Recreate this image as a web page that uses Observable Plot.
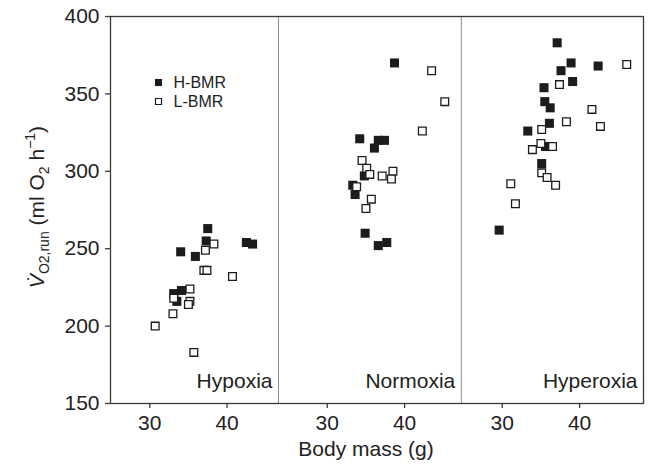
<!DOCTYPE html>
<html><head><meta charset="utf-8">
<script src="https://cdn.jsdelivr.net/npm/d3@7"></script>
<script src="https://cdn.jsdelivr.net/npm/@observablehq/plot@0.6"></script>
<style>
body{margin:0;background:#fff;}
#chart svg{font-family:"Liberation Sans", Arial, Helvetica, sans-serif;}
</style>
</head><body><div id="chart"></div>
<script>
// ---- data ----
const conditions = ["Hypoxia", "Normoxia", "Hyperoxia"];
const groups = ["H-BMR", "L-BMR"];
const xTickValues = [30, 40];
const yTickValues = [150, 200, 250, 300, 350, 400];
const xLabel = "Body mass (g)";

const hypoxiaHMass = [37.5, 37.3, 42.5, 43.3, 34.0, 35.9, 33.1, 34.1, 33.5];
const hypoxiaHVO2  = [263, 255, 254, 253, 248, 245, 221, 223, 216];
const hypoxiaLMass = [38.3, 37.2, 37.0, 37.4, 40.7, 35.2, 33.1, 35.2, 35.0, 33.0, 30.7, 35.7];
const hypoxiaLVO2  = [253, 249, 236, 236, 232, 224, 218, 216, 214, 208, 200, 183];

const normoxiaHMass = [38.7, 34.2, 36.6, 37.4, 36.1, 34.8, 33.3, 33.6, 34.9, 36.6, 37.7];
const normoxiaHVO2  = [370, 321, 320, 320, 315, 297, 291, 285, 260, 252, 254];
const normoxiaLMass = [43.5, 45.2, 42.3, 34.5, 35.1, 35.5, 37.1, 38.5, 38.3, 33.8, 35.7, 35.0];
const normoxiaLVO2  = [365, 345, 326, 307, 302, 298, 297, 300, 295, 290, 282, 276];

const hyperoxiaHMass = [37.1, 38.9, 37.6, 42.4, 39.1, 35.4, 35.5, 36.2, 36.1, 33.3, 35.6, 35.1, 29.6];
const hyperoxiaHVO2  = [383, 370, 365, 368, 358, 354, 345, 341, 331, 326, 316, 305, 262];
const hyperoxiaLMass = [46.1, 37.4, 41.6, 38.3, 42.7, 35.1, 35.0, 36.5, 33.9, 35.1, 35.8, 36.9, 31.1, 31.7];
const hyperoxiaLVO2  = [369, 356, 340, 332, 329, 327, 318, 316, 314, 299, 296, 291, 292, 279];

// ---- layout: panels laid side by side on one continuous x scale ----
const panelOffset = [0, 22.96, 45.6];
const panelRight = [46.65, 70.3, 93.87];
const xDomain = [24.92, 93.87];

function rows(cond, group, mass, vo2) {
  return mass.map((m, i) => ({condition: cond, group, mass: m, vo2: vo2[i]}));
}
const data = [
  ...rows("Hypoxia", "H-BMR", hypoxiaHMass, hypoxiaHVO2),
  ...rows("Hypoxia", "L-BMR", hypoxiaLMass, hypoxiaLVO2),
  ...rows("Normoxia", "H-BMR", normoxiaHMass, normoxiaHVO2),
  ...rows("Normoxia", "L-BMR", normoxiaLMass, normoxiaLVO2),
  ...rows("Hyperoxia", "H-BMR", hyperoxiaHMass, hyperoxiaHVO2),
  ...rows("Hyperoxia", "L-BMR", hyperoxiaLMass, hyperoxiaLVO2)
];
const xPos = d => d.mass + panelOffset[conditions.indexOf(d.condition)];
const filled = data.filter(d => d.group === "H-BMR");
const open = data.filter(d => d.group === "L-BMR");

const xTickPositions = conditions.flatMap((c, i) => xTickValues.map(v => v + panelOffset[i]));
const xTickLabels = conditions.flatMap(() => xTickValues.map(String));

const ink = "#1c1c1c";
const fs = 21;
const plot = Plot.plot({
  width: 650, height: 469,
  marginLeft: 110, marginRight: 7, marginTop: 16, marginBottom: 66,
  style: {fontSize: fs + "px", color: "#222", background: "#fff"},
  x: {domain: xDomain},
  y: {domain: [150, 400]},
  marks: [
    Plot.ruleX(panelRight.slice(0, 2), {stroke: "#8a8a8a", strokeWidth: 1}),
    Plot.frame({stroke: "#3a3a3a", strokeWidth: 1.3}),
    Plot.axisY({ticks: yTickValues, tickSize: 5, tickPadding: 6, label: null, stroke: "#3a3a3a", strokeWidth: 1.3, fontSize: fs}),
    Plot.axisX({ticks: xTickPositions, tickFormat: (d, i) => xTickLabels[i], tickSize: 5, tickPadding: 7, label: null, stroke: "#3a3a3a", strokeWidth: 1.3, fontSize: fs}),
    Plot.dot(filled, {x: xPos, y: "vo2", symbol: "square", r: 5.1, fill: ink, stroke: "none"}),
    Plot.dot(open, {x: xPos, y: "vo2", symbol: "square", r: 4.35, fill: "white", stroke: ink, strokeWidth: 1.3}),
    Plot.text(conditions, {x: (d, i) => panelRight[i], y: 150, text: d => d, dx: -6, dy: -22, textAnchor: "end", lineAnchor: "middle", fontSize: fs, fill: "#222"}),
    Plot.text([xLabel], {frameAnchor: "bottom", text: d => d, dy: 46, dx: -11, lineAnchor: "middle", fontSize: fs, fill: "#222"}),
    // legend
    Plot.dot([groups[0]], {frameAnchor: "top-left", dx: 48, dy: 66, symbol: "square", r: 4, fill: ink}),
    Plot.dot([groups[1]], {frameAnchor: "top-left", dx: 48, dy: 85, symbol: "square", r: 3.4, fill: "white", stroke: ink, strokeWidth: 1.2}),
    Plot.text([groups[0]], {frameAnchor: "top-left", text: d => d, dx: 63, dy: 66, textAnchor: "start", lineAnchor: "middle", fontSize: 16, fill: "#222"}),
    Plot.text([groups[1]], {frameAnchor: "top-left", text: d => d, dx: 63, dy: 85, textAnchor: "start", lineAnchor: "middle", fontSize: 16, fill: "#222"})
  ]
});

// y-axis label with sub/superscripts
const svg = d3.select(plot);
const yl = svg.append("text")
  .attr("transform", "translate(44,207) rotate(-90)")
  .attr("text-anchor", "middle").attr("font-size", fs).attr("fill", "#222");
yl.append("tspan").attr("font-style", "italic").text("V\u0307");
yl.append("tspan").attr("font-size", 14).attr("dy", 5).text("O2,run");
yl.append("tspan").attr("dy", -5).text(" (ml O");
yl.append("tspan").attr("font-size", 14).attr("dy", 5).text("2");
yl.append("tspan").attr("dy", -5).text(" h");
yl.append("tspan").attr("font-size", 14).attr("dy", -9).text("\u22121");
yl.append("tspan").attr("dy", 9).text(")");

document.getElementById("chart").appendChild(plot);
</script>
</body></html>
